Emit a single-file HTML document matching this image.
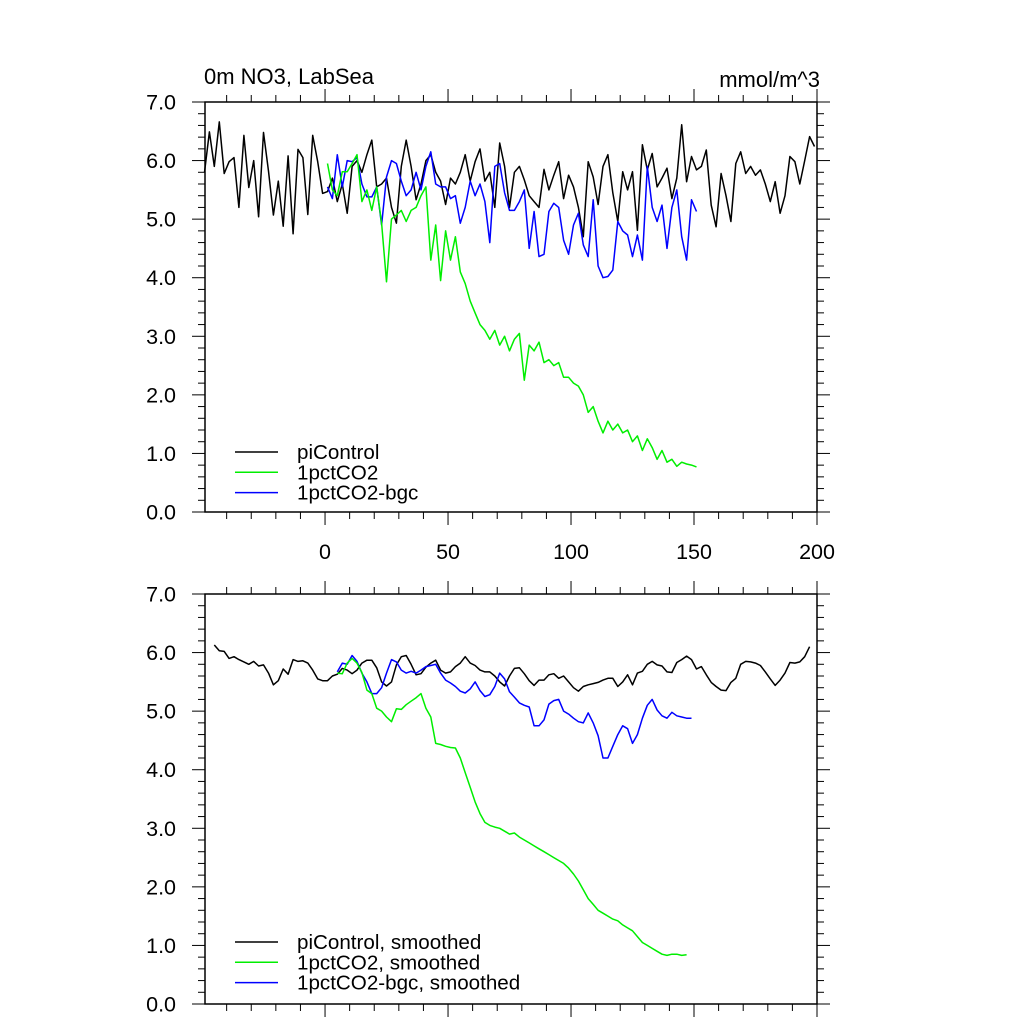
<!DOCTYPE html>
<html><head><meta charset="utf-8"><style>
html,body{margin:0;padding:0;background:#fff;}
svg{display:block;font-family:"Liberation Sans",sans-serif;}
</style></head><body>
<svg id="chart" width="1024" height="1024" viewBox="0 0 1024 1024" xmlns="http://www.w3.org/2000/svg">
<rect width="1024" height="1024" fill="#fff"/>
<text x="204" y="84" font-size="22">0m NO3, LabSea</text>
<text x="820" y="87" font-size="22" text-anchor="end">mmol/m^3</text>
<g id="top"></g>
<g id="bot"></g>
</svg>
<script>
const yTicks=[0,1,2,3,4,5,6,7];
const yTickLabels=["0.0","1.0","2.0","3.0","4.0","5.0","6.0","7.0"];
const xTicks=[0,50,100,150,200];
const xTickLabels=["0","50","100","150","200"];
const piStart=-49;
const piRaw=[5.8,6.49,5.9,6.66,5.78,5.98,6.05,5.2,6.43,5.54,6.0,5.04,6.48,5.82,5.07,5.65,4.88,6.08,4.75,6.19,6.05,5.08,6.43,5.98,5.44,
5.47,5.7,5.3,5.6,5.1,5.9,6.0,5.8,6.1,6.35,5.55,5.6,5.7,5.2,4.93,5.9,6.35,5.9,5.33,5.6,6.0,6.1,5.8,5.65,5.25,5.7,5.6,5.8,6.1,5.65,5.98,6.2,5.65,5.8,5.2,6.3,5.9,5.2,5.8,5.9,
5.67,5.4,5.3,5.2,5.85,5.5,5.75,5.98,5.35,5.75,5.55,5.2,4.7,5.98,5.72,5.25,5.9,6.1,5.45,4.96,5.81,5.5,5.81,4.81,6.27,5.84,6.12,5.55,5.7,5.87,5.35,5.7,6.61,5.64,6.07,5.84,5.9,6.18,5.24,4.87,5.78,5.4,4.96,5.95,6.15,5.78,5.9,5.75,5.84,5.6,5.3,5.64,5.1,5.4,6.07,5.98,5.6,6.0,6.41,6.24];
const pctStart=1;
const pctRaw=[5.95,5.5,5.4,5.81,5.81,5.95,6.1,5.3,5.5,5.15,5.55,4.93,3.93,5.0,5.07,5.15,4.96,5.15,5.2,5.4,5.55,4.3,4.9,3.95,4.8,4.3,4.7,4.1,3.9,3.6,3.4,3.2,3.1,2.95,3.1,2.85,3.0,2.75,2.95,3.05,2.25,2.85,2.75,2.9,2.55,2.6,2.5,2.55,2.3,2.3,2.2,2.15,2.0,1.7,1.8,1.55,1.35,1.55,1.4,1.5,1.35,1.4,1.2,1.3,1.05,1.25,1.1,0.9,1.05,0.85,0.9,0.78,0.85,0.82,0.8,0.77];
const bgcRaw=[5.55,5.35,6.1,5.55,6.0,5.98,6.05,5.6,5.38,5.38,5.55,4.9,5.72,6.0,5.95,5.65,5.4,5.5,5.8,5.5,5.9,6.15,5.6,5.55,5.55,5.35,5.4,4.93,5.2,5.65,5.4,5.6,5.3,4.6,5.9,5.95,5.45,5.15,5.15,5.3,
5.5,4.5,5.13,4.36,4.4,5.13,5.27,5.2,4.64,4.4,4.9,5.1,4.56,4.36,5.33,4.2,4.0,4.02,4.13,4.96,4.8,4.73,4.36,4.73,4.3,5.9,5.2,4.96,5.24,4.5,5.2,5.5,4.7,4.3,5.33,5.13];
const piSmStart=-45;
const piSmooth=[6.13,6.03,6.02,5.9,5.93,5.88,5.84,5.8,5.85,5.77,5.79,5.65,5.45,5.52,5.72,5.63,5.88,5.85,5.86,5.82,5.7,5.55,5.52,
5.52,5.6,5.63,5.73,5.7,5.64,5.7,5.82,5.87,5.87,5.74,5.5,5.43,5.5,5.79,5.93,5.95,5.8,5.62,5.64,5.75,5.82,5.87,5.7,5.65,5.67,5.76,5.82,5.93,5.82,5.78,5.7,5.67,5.67,5.6,5.5,5.43,5.6,5.73,5.74,
5.64,5.52,5.44,5.53,5.53,5.62,5.64,5.56,5.6,5.5,5.4,5.34,5.42,5.45,5.47,5.49,5.53,5.56,5.56,5.42,5.5,5.62,5.45,5.65,5.68,5.8,5.85,5.79,5.77,5.67,5.66,5.83,5.88,5.94,5.88,5.72,5.76,5.62,5.49,5.42,5.36,5.35,5.49,5.56,5.8,5.85,5.84,5.82,5.78,5.67,5.55,5.44,5.53,5.65,5.83,5.82,5.84,5.93,6.1];
const smStart=5;
const pctSmooth=[5.65,5.64,5.82,5.9,5.82,5.66,5.36,5.3,5.05,5.0,4.9,4.82,5.04,5.03,5.11,5.17,5.23,5.3,5.05,4.9,4.45,4.43,4.4,4.38,4.37,4.2,3.95,3.7,3.45,3.25,3.1,3.05,3.02,3.0,2.95,2.9,2.92,2.85,2.8,2.75,2.7,2.65,2.6,2.55,2.5,2.45,2.4,2.32,2.22,2.1,1.95,1.8,1.7,1.6,1.55,1.5,1.45,1.42,1.35,1.3,1.25,1.15,1.05,1.0,0.95,0.9,0.85,0.83,0.85,0.85,0.83,0.84];
const bgcSmooth=[5.67,5.82,5.8,5.95,5.85,5.65,5.5,5.3,5.3,5.4,5.65,5.88,5.84,5.7,5.65,5.68,5.65,5.7,5.76,5.78,5.8,5.65,5.53,5.48,5.42,5.34,5.31,5.38,5.5,5.35,5.25,5.28,5.42,5.65,5.55,5.33,5.24,5.14,
5.1,5.07,4.75,4.75,4.85,5.12,5.18,5.2,5.0,4.95,4.88,4.82,4.8,4.97,4.8,4.58,4.2,4.2,4.4,4.6,4.75,4.7,4.45,4.6,4.88,5.1,5.2,5.02,4.92,4.88,4.98,4.92,4.9,4.88,4.88];
const step=2;
const NS="http://www.w3.org/2000/svg";
const XMIN=-48.8,XMAX=200,L=205,R=817;
function xs(v){return L+(v-XMIN)/(XMAX-XMIN)*(R-L);}
function mk(tag,attrs,parent){const e=document.createElementNS(NS,tag);for(const k in attrs)e.setAttribute(k,attrs[k]);parent.appendChild(e);return e;}
function panel(g,top,bottom,showX,series,legend,ly){
  const ys=v=>bottom-(v/7)*(bottom-top);
  for(let i=0;i<=35;i++){const v=i*0.2;const y=ys(v);const maj=i%5===0;
    const t1=mk('line',{x1:L-(maj?13:7),x2:L,y1:y,y2:y,stroke:'#000','stroke-width':1},g);
    
    
    const t2=mk('line',{x1:R,x2:R+(maj?13:7),y1:y,y2:y,stroke:'#000','stroke-width':1},g);
    
    
  }
  yTicks.forEach((v,i)=>{const t=mk('text',{x:176,y:ys(v)+7.5,'font-size':21.5,'text-anchor':'end'},g);t.textContent=yTickLabels[i];
    
    });
  for(let yr=-40;yr<=200;yr+=10){const x=xs(yr);const maj=yr%50===0;
    const a=mk('line',{x1:x,x2:x,y1:top-(maj?13:7),y2:top,stroke:'#000','stroke-width':1},g);
    
    
    const b=mk('line',{x1:x,x2:x,y1:bottom,y2:bottom+(maj?13:7),stroke:'#000','stroke-width':1},g);
    
    }
  if(showX) xTicks.forEach((v,i)=>{const t=mk('text',{x:xs(v),y:559,'font-size':21.5,'text-anchor':'middle'},g);t.textContent=xTickLabels[i];
    
    });
  series.forEach(s=>{const pts=s.data.map((v,i)=>xs(s.start+i*step).toFixed(1)+','+ys(v).toFixed(1)).join(' ');
    const p=mk('polyline',{points:pts,fill:'none',stroke:s.color,'stroke-width':1.5,'stroke-linejoin':'round'},g);
    
    });
  const fr=mk('rect',{x:L,y:top,width:R-L,height:bottom-top,fill:'none',stroke:'#000','stroke-width':1.5},g);
  
  
  legend.forEach((e,i)=>{const y=ly+i*20.3;
    const l=mk('line',{x1:235,x2:278,y1:y,y2:y,stroke:e.color,'stroke-width':1.5},g);
    
    
    const t=mk('text',{x:297,y:y+7,'font-size':20.6},g);t.textContent=e.label;
    
    });
}
panel(document.getElementById('top'),102,512,true,[
  {name:'picontrol-line',data:piRaw,start:piStart,color:'#000'},
  {name:'1pctco2-bgc-line',data:bgcRaw,start:pctStart,color:'#0000ff'},
  {name:'1pctco2-line',data:pctRaw,start:pctStart,color:'#00ee00'}],
  [{label:'piControl',color:'#000'},{label:'1pctCO2',color:'#00ee00'},{label:'1pctCO2-bgc',color:'#0000ff'}],452);
panel(document.getElementById('bot'),594,1004,false,[
  {name:'picontrol-smoothed-line',data:piSmooth,start:piSmStart,color:'#000'},
  {name:'1pctco2-bgc-smoothed-line',data:bgcSmooth,start:smStart,color:'#0000ff'},
  {name:'1pctco2-smoothed-line',data:pctSmooth,start:smStart,color:'#00ee00'}],
  [{label:'piControl, smoothed',color:'#000'},{label:'1pctCO2, smoothed',color:'#00ee00'},{label:'1pctCO2-bgc, smoothed',color:'#0000ff'}],942);
</script>
</body></html>
